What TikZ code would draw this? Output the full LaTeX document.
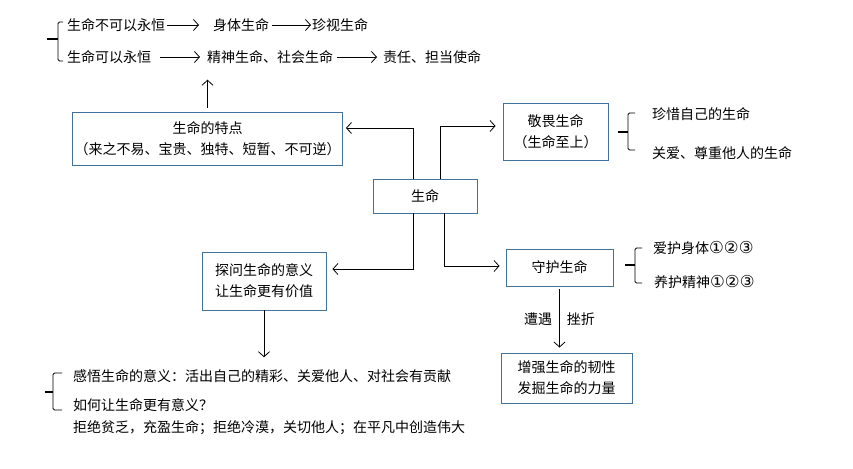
\documentclass[tikz,border=0pt]{standalone}
\usepackage{fontspec}
\setmainfont{Noto Sans CJK SC}
\newfontfamily\circfont{DejaVu Sans}
\usepackage{xcolor}
\usepackage{tikz}
\usetikzlibrary{arrows.meta,positioning}

\definecolor{boxblue}{RGB}{65,113,156}

\begin{document}
\begin{tikzpicture}[
    x=1pt, y=-1pt,
    font=\fontsize{14}{21}\selectfont,
    every node/.style = {align=center},
    box/.style   = {draw=boxblue, line width=0.9pt, inner sep=2pt},
    txt/.style   = {anchor=west, inner sep=0pt},
    arr/.style   = {-{Straight Barb[length=5pt,width=11pt]}, line width=0.8pt},
    lbl/.style   = {inner sep=0pt},
    brace/.style = {line width=0.8pt, rounded corners=1.5pt},
    tick/.style  = {line width=1.8pt},
]
\useasboundingbox (0,0) rectangle (853,468);

% ---------------- Top rows ----------------
\node[txt] (mortal)  at (67,25) {生命不可以永恒};
\node[txt] (body)    at (213,25) {身体生命};
\node[txt] (cherish) at (312,25) {珍视生命};
\node[txt] (eternal) at (67,57) {生命可以永恒};
\node[txt] (spirit)  at (207,57) {精神生命、社会生命};
\node[txt] (duty)    at (383,57) {责任、担当使命};

\draw[brace] (63,22) -- (58,22) -- (58,61) -- (63,61);
\draw[tick] (47,39) -- (58,39);

\draw[arr, shorten <=2pt, shorten >=14pt] (mortal.east) -- (body.west);
\draw[arr, shorten <=3pt, shorten >=1pt] (body.east) -- (cherish.west);
\draw[arr, shorten <=9pt, shorten >=7pt] (eternal.east) -- (spirit.west);
\draw[arr, shorten <=4pt, shorten >=6pt] (spirit.east) -- (duty.west);

% ---------------- Boxes ----------------
\node[box, minimum width=269pt, minimum height=53pt] (trait) at (207.5,138.5)
    {生命的特点\\（来之不易、宝贵、独特、短暂、不可逆）};
\node[box, minimum width=104pt, minimum height=34pt] (life) at (425,196) {生命};
\node[box, minimum width=105pt, minimum height=57pt] (awe) at (555.5,131.5)
    {敬畏生命\\（生命至上）};
\node[box, minimum width=124pt, minimum height=58pt] (explore) at (264,281)
    {探问生命的意义\\让生命更有价值};
\node[box, minimum width=107pt, minimum height=37pt] (guard) at (559.5,267.5) {守护生命};
\node[box, minimum width=131pt, minimum height=50pt] (strong) at (566.5,378)
    {增强生命的韧性\\发掘生命的力量};

% ---------------- Side lists ----------------
\node[txt] (cherishself) at (652,114) {珍惜自己的生命};
\node[txt] (respect)     at (652,153) {关爱、尊重他人的生命};
\draw[brace] (635,113) -- (628,113) -- (628,150) -- (635,150);
\draw[tick] (618,132) -- (628,132);

\node[txt] (bodycare) at (653,248) {爱护身体{\circfont\fontsize{16.5}{16.5}\selectfont ①②③}};
\node[txt] (mindcare) at (654,282) {养护精神{\circfont\fontsize{16.5}{16.5}\selectfont ①②③}};
\draw[brace] (642,248) -- (635,248) -- (635,283) -- (642,283);
\draw[tick] (625,265) -- (635,265);

\node[txt] (feel)   at (73,376) {感悟生命的意义：活出自己的精彩、关爱他人、对社会有贡献};
\node[txt] (how)    at (73,405) {如何让生命更有意义？};
\node[txt] (reject) at (73,428) {拒绝贫乏，充盈生命；拒绝冷漠，关切他人；在平凡中创造伟大};
\draw[brace] (62,373) -- (53,373) -- (53,410) -- (62,410);
\draw[tick] (45,392) -- (53,392);

% ---------------- Arrows ----------------
\draw[arr, shorten <=4pt, shorten >=16pt] (trait.north) -- (trait.north |- spirit.south);
\draw[arr, shorten >=3pt] ([xshift=-12pt]life.north) |- ([yshift=10.5pt]trait.east);
\draw[arr, shorten >=7pt] ([xshift=15pt]life.north) |- ([yshift=5.5pt]awe.west);
\draw[arr, shorten >=6pt] ([xshift=-12pt]life.south) |- ([yshift=12pt]explore.east);
\draw[arr, shorten >=6pt] ([xshift=19pt]life.south) |- ([yshift=1.5pt]guard.west);
\draw[arr, shorten <=3pt, shorten >=5pt] (guard.south) -- (guard.south |- strong.north)
    node[lbl, midway, left=7pt] {遭遇}
    node[lbl, midway, right=7pt] {挫折};
\draw[arr, shorten >=12pt] (explore.south) -- (explore.south |- feel.north);

\end{tikzpicture}
\end{document}
